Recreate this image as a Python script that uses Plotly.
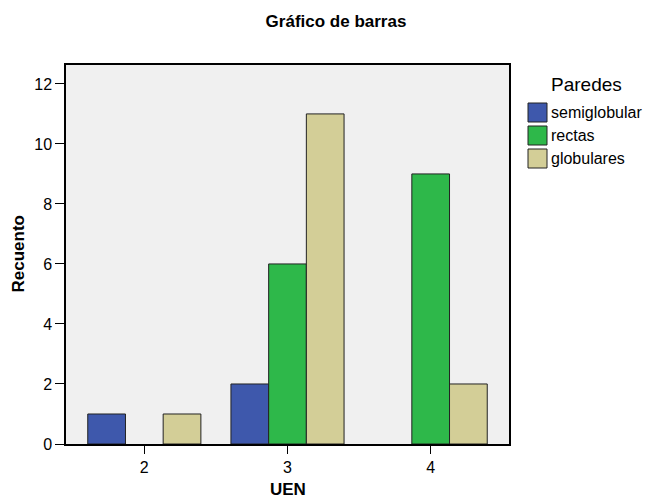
import plotly.graph_objects as go

categories = ["2", "3", "4"]
x_vals = [2, 3, 4]
series_names = ["semiglobular", "rectas", "globulares"]
semiglobular = [1, 2, 0]
rectas = [0, 6, 9]
globulares = [1, 11, 2]
colors = ["#3E58AC", "#2EB84A", "#D3CE97"]
legend_title = "Paredes"

# the page body has an 8px default margin; build the figure so that
# window coordinates = figure coordinates + OFF
OFF = 8
W, H = 654, 501
L, R, T, B = 66, 145, 65, 57          # in window pixels
FW, FH = W - OFF, H - OFF
PW, PH = W - L - R, H - T - B

def px_x(px):
    return (px - L) / PW

def px_y(py):
    return (H - B - py) / PH

fig = go.Figure()
for name, vals, col in zip(series_names, [semiglobular, rectas, globulares], colors):
    fig.add_trace(go.Bar(x=x_vals, y=[v if v != 0 else None for v in vals], name=name,
                         marker=dict(color=col, line=dict(color="#222222", width=1)),
                         showlegend=False))

# manual legend (SPSS style)
shapes = []
annotations = []
annotations.append(dict(text=legend_title, xref="paper", yref="paper", x=px_x(549), y=px_y(85),
                        xanchor="left", yanchor="middle", showarrow=False,
                        font=dict(size=19, color="black")))
for i, (name, col) in enumerate(zip(series_names, colors)):
    cy = 112.5 + i * 23
    shapes.append(dict(type="rect", xref="paper", yref="paper",
                       x0=px_x(528), x1=px_x(547), y0=px_y(cy - 9.5), y1=px_y(cy + 9.5),
                       fillcolor=col, line=dict(color="#222222", width=1)))
    annotations.append(dict(text=name, xref="paper", yref="paper", x=px_x(549), y=px_y(cy),
                            xanchor="left", yanchor="middle", showarrow=False,
                            font=dict(size=16, color="black")))

# axis titles
annotations.append(dict(text="<b>Recuento</b>", xref="paper", yref="paper", x=0, y=0.5,
                        xshift=-(L - 18), xanchor="center", yanchor="middle", textangle=-90,
                        showarrow=False, font=dict(size=17, color="black")))
annotations.append(dict(text="<b>UEN</b>", xref="paper", yref="paper", x=0.5, y=0,
                        yshift=-(489 - (H - B)), xanchor="center", yanchor="middle",
                        showarrow=False, font=dict(size=17, color="black")))

fig.update_layout(
    width=FW, height=FH,
    margin=dict(l=L - OFF, r=R, t=T - OFF, b=B, autoexpand=False),
    barmode="group", bargap=0.21, bargroupgap=0,
    plot_bgcolor="#F0F0F0", paper_bgcolor="white",
    font=dict(family="Liberation Sans, Arial", size=15, color="black"),
    title=dict(text="<b>Gráfico de barras</b>", x=(336 - OFF) / FW, xref="container",
               xanchor="center", y=1 - (21.5 - OFF) / FH, yref="container", yanchor="middle",
               font=dict(size=17)),
    showlegend=False,
    shapes=shapes,
    annotations=annotations,
    xaxis=dict(range=[1.453, 4.547], tickvals=x_vals, ticktext=categories,
               ticks="outside", ticklen=8, tickcolor="black", showline=True,
               linecolor="black", linewidth=1.5, mirror=True, showgrid=False, zeroline=False,
               tickfont=dict(size=16)),
    yaxis=dict(range=[0, 12.63], tickvals=[0, 2, 4, 6, 8, 10, 12],
               ticks="outside", ticklen=9, tickcolor="black", showline=True,
               linecolor="black", linewidth=1.5, mirror=True, showgrid=False, zeroline=False,
               tickfont=dict(size=16)),
)
fig.write_html("out.html")
